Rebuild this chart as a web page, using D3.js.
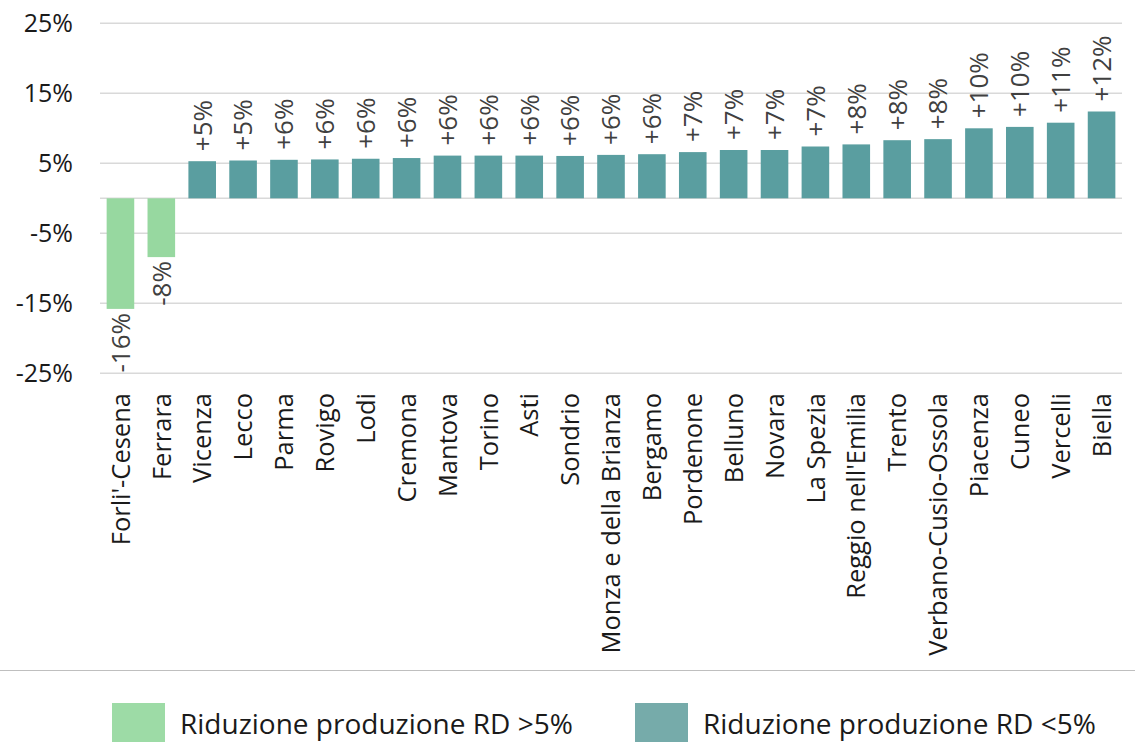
<!DOCTYPE html>
<html>
<head>
<meta charset="utf-8">
<script src="https://cdn.jsdelivr.net/npm/d3@7"></script>
<style>
	body { margin: 0; background: #fff; }
	svg { display: block; font-family: "Open Sans", sans-serif; }
</style>
</head>
<body>
<svg id="chart" width="1135" height="742"></svg>
<script>
// province names, left to right
var provinces = ["Forli'-Cesena", "Ferrara", "Vicenza", "Lecco", "Parma", "Rovigo", "Lodi",
	"Cremona", "Mantova", "Torino", "Asti", "Sondrio", "Monza e della Brianza", "Bergamo",
	"Pordenone", "Belluno", "Novara", "La Spezia", "Reggio nell'Emilia", "Trento",
	"Verbano-Cusio-Ossola", "Piacenza", "Cuneo", "Vercelli", "Biella"];
// variation in %
var variation = [-15.8, -8.4, 5.3, 5.4, 5.5, 5.55, 5.65, 5.75, 6.1, 6.1, 6.1, 6.05, 6.2, 6.3,
	6.6, 6.9, 6.9, 7.4, 7.7, 8.3, 8.45, 10.0, 10.2, 10.8, 12.4];
// legend group of each province (0 = >5%, 1 = <5%)
var group = [0, 0, 1, 1, 1, 1, 1, 1, 1, 1, 1, 1, 1, 1, 1, 1, 1, 1, 1, 1, 1, 1, 1, 1, 1];
var legendLabels = ["Riduzione produzione RD >5%", "Riduzione produzione RD <5%"];
var yTicks = [-25, -15, -5, 5, 15, 25];

var barColors = ["#97d8a0", "#5a9ea0"];
var legendColors = ["#9ddba6", "#76abaa"];

var svg = d3.select("#chart");

var x = d3.scaleBand()
	.domain(provinces)
	.range([100, 1122])
	.paddingInner(0.325)
	.paddingOuter(0.1625);

var y = d3.scaleLinear()
	.domain([-25, 25])
	.range([373.3, 23.3]);

// gridlines
svg.append("g")
	.selectAll("line")
	.data(yTicks.concat([0]))
	.enter()
		.append("line")
		.attr("x1", 100)
		.attr("x2", 1122)
		.attr("y1", function(d) { return y(d); })
		.attr("y2", function(d) { return y(d); })
		.attr("stroke", "#d9d9d9")
		.attr("stroke-width", 1.5);

// y axis
var yAxis = svg.append("g")
	.attr("transform", "translate(73,0)")
	.call(d3.axisLeft(y).tickValues(yTicks).tickSize(0).tickPadding(0)
		.tickFormat(function(d) { return d + "%"; }));
yAxis.select(".domain").remove();
yAxis.selectAll("text")
	.attr("font-family", "Open Sans")
	.attr("font-size", 25)
	.attr("fill", "#1a1a1a");

// bars
svg.append("g")
	.selectAll("rect")
	.data(provinces)
	.enter()
		.append("rect")
		.attr("x", function(d) { return x(d); })
		.attr("width", x.bandwidth())
		.attr("y", function(d, i) { return y(Math.max(0, variation[i])); })
		.attr("height", function(d, i) { return Math.abs(y(variation[i]) - y(0)); })
		.attr("fill", function(d, i) { return barColors[group[i]]; });

// data labels (plain hyphen as in the original)
var fmt = function(v) { return (v >= 0 ? "+" : "-") + Math.abs(v).toFixed(0) + "%"; };
svg.append("g")
	.selectAll("text")
	.data(provinces)
	.enter()
		.append("text")
		.attr("transform", function(d, i) {
			var v = variation[i];
			var yy = v >= 0 ? y(v) - 10 : y(v) + 4;
			return "translate(" + (x(d) + x.bandwidth() / 2) + "," + yy + ") rotate(-90)";
		})
		.attr("text-anchor", function(d, i) { return variation[i] >= 0 ? "start" : "end"; })
		.attr("dy", "0.36em")
		.attr("font-size", 26)
		.attr("fill", "#404040")
		.text(function(d, i) { return fmt(variation[i]); });

// category axis
var xAxis = svg.append("g")
	.attr("transform", "translate(0,393)")
	.call(d3.axisBottom(x).tickSize(0).tickPadding(0));
xAxis.select(".domain").remove();
xAxis.selectAll("text")
	.attr("font-family", "Open Sans")
	.attr("font-size", 25.5)
	.attr("fill", "#1a1a1a")
	.attr("transform", "rotate(-90)")
	.attr("text-anchor", "end")
	.attr("x", 0)
	.attr("y", 0)
	.attr("dy", "0.36em");

// separator above legend
svg.append("line")
	.attr("x1", 0).attr("x2", 1135)
	.attr("y1", 670.5).attr("y2", 670.5)
	.attr("stroke", "#bfbfbf")
	.attr("stroke-width", 1.2);

// legend
var legendX = [112, 635];
var lg = svg.append("g")
	.selectAll("g")
	.data(legendLabels)
	.enter()
		.append("g")
		.attr("transform", function(d, i) { return "translate(" + legendX[i] + ",703)"; });
lg.append("rect")
	.attr("width", 53)
	.attr("height", 42)
	.attr("fill", function(d, i) { return legendColors[i]; });
lg.append("text")
	.attr("x", 68)
	.attr("y", 21)
	.attr("dy", "0.36em")
	.attr("font-size", 28)
	.attr("fill", "#1a1a1a")
	.text(function(d) { return d; });
</script>
</body>
</html>
